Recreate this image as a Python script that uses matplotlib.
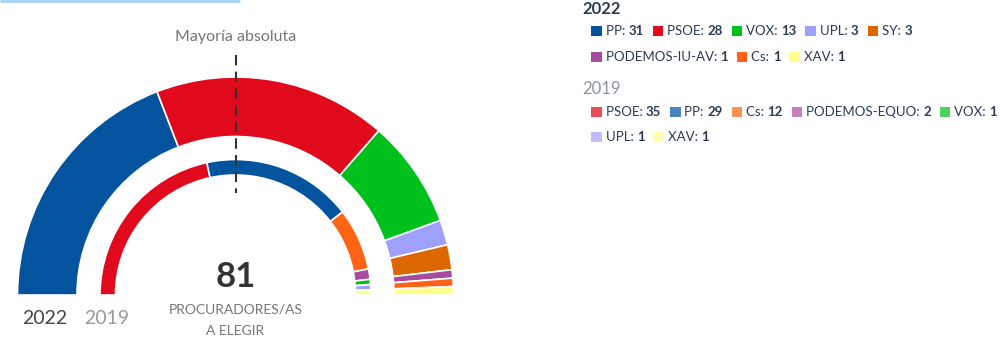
import matplotlib
matplotlib.use("Agg")
import matplotlib.pyplot as plt

plt.rcParams["font.family"] = ["Lato", "DejaVu Sans"]

# 2022 results (outer ring)
parties_2022 = ["PP", "PSOE", "VOX", "UPL", "SY", "PODEMOS-IU-AV", "Cs", "XAV"]
seats_2022 = [31, 28, 13, 3, 3, 1, 1, 1]
colors_2022 = ["#03539f", "#e10a1c", "#00c01c", "#9f9ffc", "#dc6600",
               "#a74b9f", "#ff6416", "#ffff8a"]

# 2019 results (inner ring)
parties_2019 = ["PSOE", "PP", "Cs", "PODEMOS-EQUO", "VOX", "UPL", "XAV"]
seats_2019 = [35, 29, 12, 2, 1, 1, 1]
colors_2019 = ["#e10a1c", "#03539f", "#ff6416", "#a74b9f", "#00c01c",
               "#9f9ffc", "#ffff8a"]
legend_colors_2019 = ["#ea4c59", "#4a84c0", "#ff9152", "#c67fbf", "#4ecf5e",
                      "#bdbdfd", "#ffffb2"]

total_seats = 81

W, H = 1000, 355
fig = plt.figure(figsize=(W / 100, H / 100), dpi=100)
ax = fig.add_axes([0, 0, 1, 1])


def Y(y):
    # image-style y (top = 0) to axis y
    return H - y


cx, cy = 235.5, Y(295)

# outer ring: 2022
ax.pie(seats_2022 + [sum(seats_2022)], colors=colors_2022 + ["none"],
       startangle=180, counterclock=False, radius=218, center=(cx, cy),
       wedgeprops=dict(width=59.5, edgecolor="white", linewidth=1.2),
       frame=True)
# hide the edge of the invisible lower half
ax.patches[-1].set_edgecolor("none")

# inner ring: 2019
ax.pie(seats_2019 + [sum(seats_2019)], colors=colors_2019 + ["none"],
       startangle=180, counterclock=False, radius=135.5, center=(cx, cy),
       wedgeprops=dict(width=15.5, edgecolor="white", linewidth=1.2),
       frame=True)
ax.patches[-1].set_edgecolor("none")

ax.set_xlim(0, W)
ax.set_ylim(0, H)
ax.set_aspect("auto")
ax.axis("off")

# top accent line
ax.plot([0, 240], [Y(0.7), Y(0.7)], color="#9fd3f5", lw=2, solid_capstyle="butt")

# majority line
ax.plot([cx, cx], [Y(55), Y(193)], color="#333333", lw=1.5, ls=(0, (5, 3)))
ax.text(cx, Y(37), "Mayoría absoluta", ha="center", va="center",
        fontsize=11.5, color="#777777")

# centre labels
ax.text(cx, Y(277), str(total_seats), ha="center", va="center",
        fontsize=25, fontweight="bold", color="#333333")
ax.text(cx, Y(309), "PROCURADORES/AS", ha="center", va="center",
        fontsize=10, color="#777777")
ax.text(cx, Y(331), "A ELEGIR", ha="center", va="center",
        fontsize=10, color="#777777")

ax.text(45, Y(319), "2022", ha="center", va="center", fontsize=14, color="#444444")
ax.text(107, Y(319), "2019", ha="center", va="center", fontsize=14, color="#999999")

# legends
renderer = fig.canvas.get_renderer()


def draw_legend(rows, names, seats, colors, y_rows):
    k = 0
    for row_len, y in zip(rows, y_rows):
        x = 591
        for _ in range(row_len):
            ax.add_patch(plt.Rectangle((x, Y(y) - 5.25), 10.5, 10.5,
                                       facecolor=colors[k], edgecolor="none"))
            t1 = ax.text(x + 14.5, Y(y), f"{names[k]}: ", ha="left", va="center",
                         fontsize=9.5, color="#2b3a55")
            bb = t1.get_window_extent(renderer)
            t2 = ax.text(bb.x1, Y(y), str(seats[k]), ha="left", va="center",
                         fontsize=9.5, fontweight="bold", color="#2b3a55")
            bb2 = t2.get_window_extent(renderer)
            x = bb2.x1 + 9
            k += 1


ax.text(582, Y(9), "2022", ha="left", va="center", fontsize=12,
        fontweight="bold", color="#2b3a55")
draw_legend([5, 3], parties_2022, seats_2022, colors_2022, [31, 57])

ax.text(582, Y(89), "2019", ha="left", va="center", fontsize=12,
        color="#8a93a5")
draw_legend([5, 2], parties_2019, seats_2019, legend_colors_2019, [112, 137])

fig.savefig("out.png", dpi=100, facecolor="white")
